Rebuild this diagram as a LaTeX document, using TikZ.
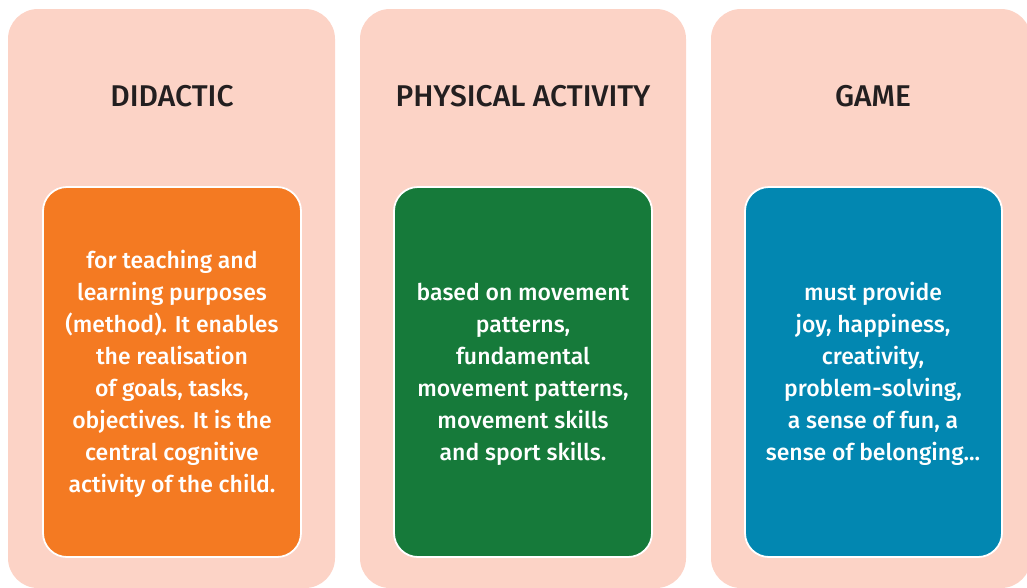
\documentclass[tikz,border=0pt]{standalone}
\usepackage{fontspec}
\setmainfont{Fira Sans}[BoldFont={Fira Sans Medium}]
\definecolor{peach}{HTML}{FCD3C6}
\definecolor{orangebox}{HTML}{F47A22}
\definecolor{greenbox}{HTML}{167A3A}
\definecolor{bluebox}{HTML}{0287B1}
\definecolor{titleink}{HTML}{231F20}
\begin{document}
\begin{tikzpicture}[x=1pt,y=-1pt,
  panel/.style={fill=peach, rounded corners=30pt},
  inner/.style={draw=white, line width=1.8pt, rounded corners=24pt},
  heading/.style={text=titleink, font=\bfseries\fontsize{30}{36}\selectfont, anchor=center},
  body/.style={text=white, font=\bfseries\fontsize{23}{32}\selectfont, align=center, anchor=center}]
\useasboundingbox (0,0) rectangle (1027,587);
\clip (0,0) rectangle (1027,587);
% background panels
\fill[panel] (8,9) rectangle (335,588);
\fill[panel] (360,9) rectangle (686,588);
\fill[panel] (711,9) rectangle (1031,588);
% column headings
\node[heading] (h1) at (172,96) {DIDACTIC};
\node[heading] (h2) at (523,96) {PHYSICAL ACTIVITY};
\node[heading] (h3) at (873,96) {GAME};
% coloured content boxes
\filldraw[inner, fill=orangebox] (43,187) rectangle (301,557);
\filldraw[inner, fill=greenbox] (394,187) rectangle (652,557);
\filldraw[inner, fill=bluebox] (745,187) rectangle (1002,557);
\node[body] (b1) at (172,374) {for teaching and\\learning purposes\\(method). It enables\\the realisation\\of goals, tasks,\\objectives. It is the\\central cognitive\\activity of the child.};
\node[body] (b2) at (523,374) {based on movement\\patterns,\\fundamental\\movement patterns,\\movement skills\\and sport skills.};
\node[body] (b3) at (873,374) {must provide\\joy, happiness,\\creativity,\\problem-solving,\\a sense of fun, a\\sense of belonging...};
\end{tikzpicture}
\end{document}
